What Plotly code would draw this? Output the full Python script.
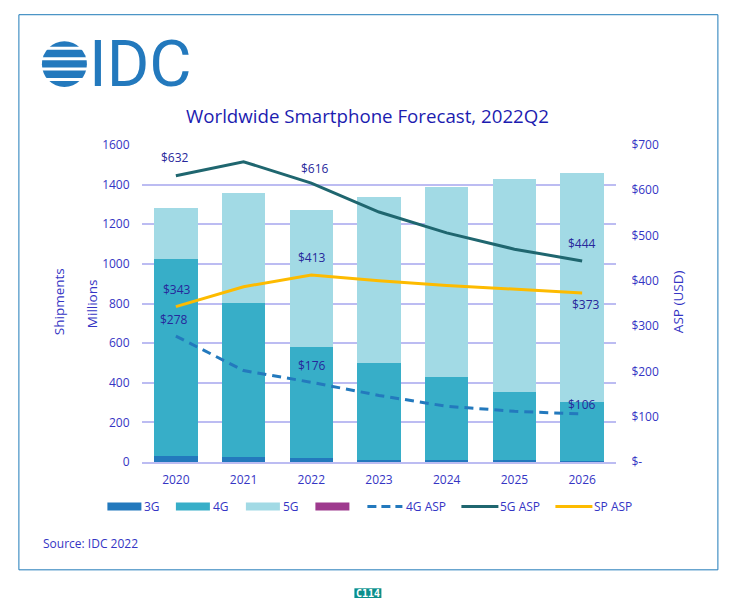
import plotly.graph_objects as go

# the page adds an 8px body margin, so the figure is 16px smaller than the window
W, H = 746, 606
PAGE_MARGIN = 8
# plot area as seen in the picture
PLOT_L, PLOT_R, PLOT_T, PLOT_B = 141.6, 615.6, 145, 462.5

years = ['2020', '2021', '2022', '2023', '2024', '2025', '2026']
ship_3g = [29, 23, 19, 12, 10, 10, 7]
ship_4g = [996, 781, 563, 488, 421, 344, 298]
ship_5g = [257, 556, 690, 839, 959, 1074, 1154]
asp_4g = [278, 202, 176, 147, 123, 112, 106]
asp_5g = [632, 663, 616, 552, 506, 470, 444]
asp_sp = [343, 387, 413, 400, 390, 381, 373]

ship_ticks = [0, 200, 400, 600, 800, 1000, 1200, 1400, 1600]
asp_ticks = [0, 100, 200, 300, 400, 500, 600, 700]
asp_labels = ['$-', '$100', '$200', '$300', '$400', '$500', '$600', '$700']

COL_3G = '#2379bd'
COL_4G = '#37aec8'
COL_5G = '#a2dae5'
COL_EXTRA = '#9e3a8e'
COL_5G_ASP = '#1f666f'
COL_SP_ASP = '#fdbb00'
TEXT = '#3535c4'
LABEL = '#27279b'
GRID = '#bcbcf2'
FONT = 'Open Sans'

def px(x):
    return (x - PLOT_L) / (PLOT_R - PLOT_L)

def py(y):
    return (PLOT_B - y) / (PLOT_B - PLOT_T)

fig = go.Figure()
fig.add_trace(go.Bar(x=years, y=ship_3g, name='3G', marker_color=COL_3G, marker_line_width=0))
fig.add_trace(go.Bar(x=years, y=ship_4g, name='4G', marker_color=COL_4G, marker_line_width=0))
fig.add_trace(go.Bar(x=years, y=ship_5g, name='5G', marker_color=COL_5G, marker_line_width=0))
fig.add_trace(go.Scatter(x=years, y=asp_4g, name='4G ASP', yaxis='y2', mode='lines',
                         line=dict(color=COL_3G, width=3, dash='9px,6px')))
fig.add_trace(go.Scatter(x=years, y=asp_5g, name='5G ASP', yaxis='y2', mode='lines',
                         line=dict(color=COL_5G_ASP, width=3)))
fig.add_trace(go.Scatter(x=years, y=asp_sp, name='SP ASP', yaxis='y2', mode='lines',
                         line=dict(color=COL_SP_ASP, width=3)))

# value labels: series, index, x shift, y shift
labels = [(asp_5g, 0, -1, 18), (asp_5g, 2, 4, 15), (asp_5g, 6, 0, 17),
          (asp_sp, 0, 1, 17), (asp_sp, 2, 1, 17), (asp_sp, 6, 4, -11),
          (asp_4g, 0, -2, 17), (asp_4g, 2, 1, 17), (asp_4g, 6, 0, 10)]
for series, i, dx, dy in labels:
    # x is the category index here, a year string gets read as a number
    fig.add_annotation(x=i, y=series[i], yref='y2', text='$%d' % series[i], showarrow=False,
                       xshift=dx, yshift=dy, font=dict(family=FONT, size=12, color=LABEL))

def note(text, x, y, size=12, color=TEXT, anchor='left', angle=0, family=FONT, weight=None):
    fig.add_annotation(x=px(x), y=py(y), xref='paper', yref='paper', text=text, showarrow=False,
                       xanchor=anchor, yanchor='middle', textangle=angle,
                       font=dict(family=family, size=size, color=color, weight=weight))

def rect(x0, y0, x1, y1, fill):
    fig.add_shape(type='rect', xref='paper', yref='paper', x0=px(x0), x1=px(x1), y0=py(y0), y1=py(y1),
                  fillcolor=fill, line=dict(width=0))

def rule(x0, x1, y, color, width, dash=None):
    fig.add_shape(type='line', xref='paper', yref='paper', x0=px(x0), x1=px(x1), y0=py(y), y1=py(y),
                  line=dict(color=color, width=width, dash=dash))

# outer frame
fig.add_shape(type='rect', xref='paper', yref='paper', x0=px(18.5), x1=px(717.5), y0=py(14.5), y1=py(570.5),
              line=dict(color='#1f7ab8', width=1), layer='below')

# logo: blue disc cut by white stripes
fig.add_shape(type='circle', xref='paper', yref='paper', x0=px(41.5), x1=px(86.5), y0=py(41), y1=py(87),
              fillcolor=COL_3G, line=dict(width=0))
for y in [48, 58.5, 69, 79.5]:
    rule(38, 90, y, 'white', 3)
note('IDC', 87, 63.5, size=65, color=COL_3G, family='Roboto', weight=400)

note('Worldwide Smartphone Forecast, 2022Q2', 367, 115.5, size=18.7, color='#1c1cb0', anchor='center')
note('Shipments', 58, 302, size=13.5, angle=-90, anchor='center')
note('Millions', 91, 304, size=13.5, angle=-90, anchor='center')
note('ASP (USD)', 677, 302, size=13.5, angle=-90, anchor='center')
note('Source: IDC 2022', 40.5, 544)

# hand drawn legend so the swatches keep the wide shape
for x0, fill, name in [(107, COL_3G, '3G'), (175.5, COL_4G, '4G'), (245.5, COL_5G, '5G'), (315, COL_EXTRA, '')]:
    rect(x0, 503, x0 + 34, 511, fill)
    if name:
        note(name, x0 + 35, 507)
rule(367, 402, 507, COL_3G, 3, '9px,5px')
note('4G ASP', 404, 507)
rule(461, 498, 507, COL_5G_ASP, 3)
note('5G ASP', 498, 507)
rule(555, 592, 507, COL_SP_ASP, 3)
note('SP ASP', 592, 507)

# badge under the frame
rect(354, 589, 381, 600, '#0b8f8c')
note('C114', 367.5, 594.5, size=10, color='white', anchor='center', family='DejaVu Sans Mono', weight='bold')

fig_w, fig_h = W - 2 * PAGE_MARGIN, H - 2 * PAGE_MARGIN
fig.update_layout(
    width=fig_w, height=fig_h, autosize=False, barmode='stack', bargap=0.36,
    margin=dict(l=PLOT_L - PAGE_MARGIN, r=fig_w - (PLOT_R - PAGE_MARGIN), t=PLOT_T - PAGE_MARGIN,
                b=fig_h - (PLOT_B - PAGE_MARGIN), pad=0),
    paper_bgcolor='white', plot_bgcolor='white', showlegend=False,
    font=dict(family=FONT, size=12, color=TEXT),
    xaxis=dict(type='category', range=[-0.5, 6.5], showgrid=False, showline=True, linecolor=GRID, linewidth=1.5,
               ticks='outside', ticklen=6, tickcolor='rgba(0,0,0,0)'),
    yaxis=dict(range=[0, 1600], tickvals=ship_ticks, showgrid=True, gridcolor=GRID, gridwidth=1.5,
               zeroline=False, ticks='outside', ticklen=9, tickcolor='rgba(0,0,0,0)'),
    yaxis2=dict(range=[0, 700], tickvals=asp_ticks, ticktext=asp_labels, overlaying='y', side='right',
                showgrid=False, zeroline=False, ticks='outside', ticklen=12, tickcolor='rgba(0,0,0,0)'),
)

fig.write_html("out.html")
